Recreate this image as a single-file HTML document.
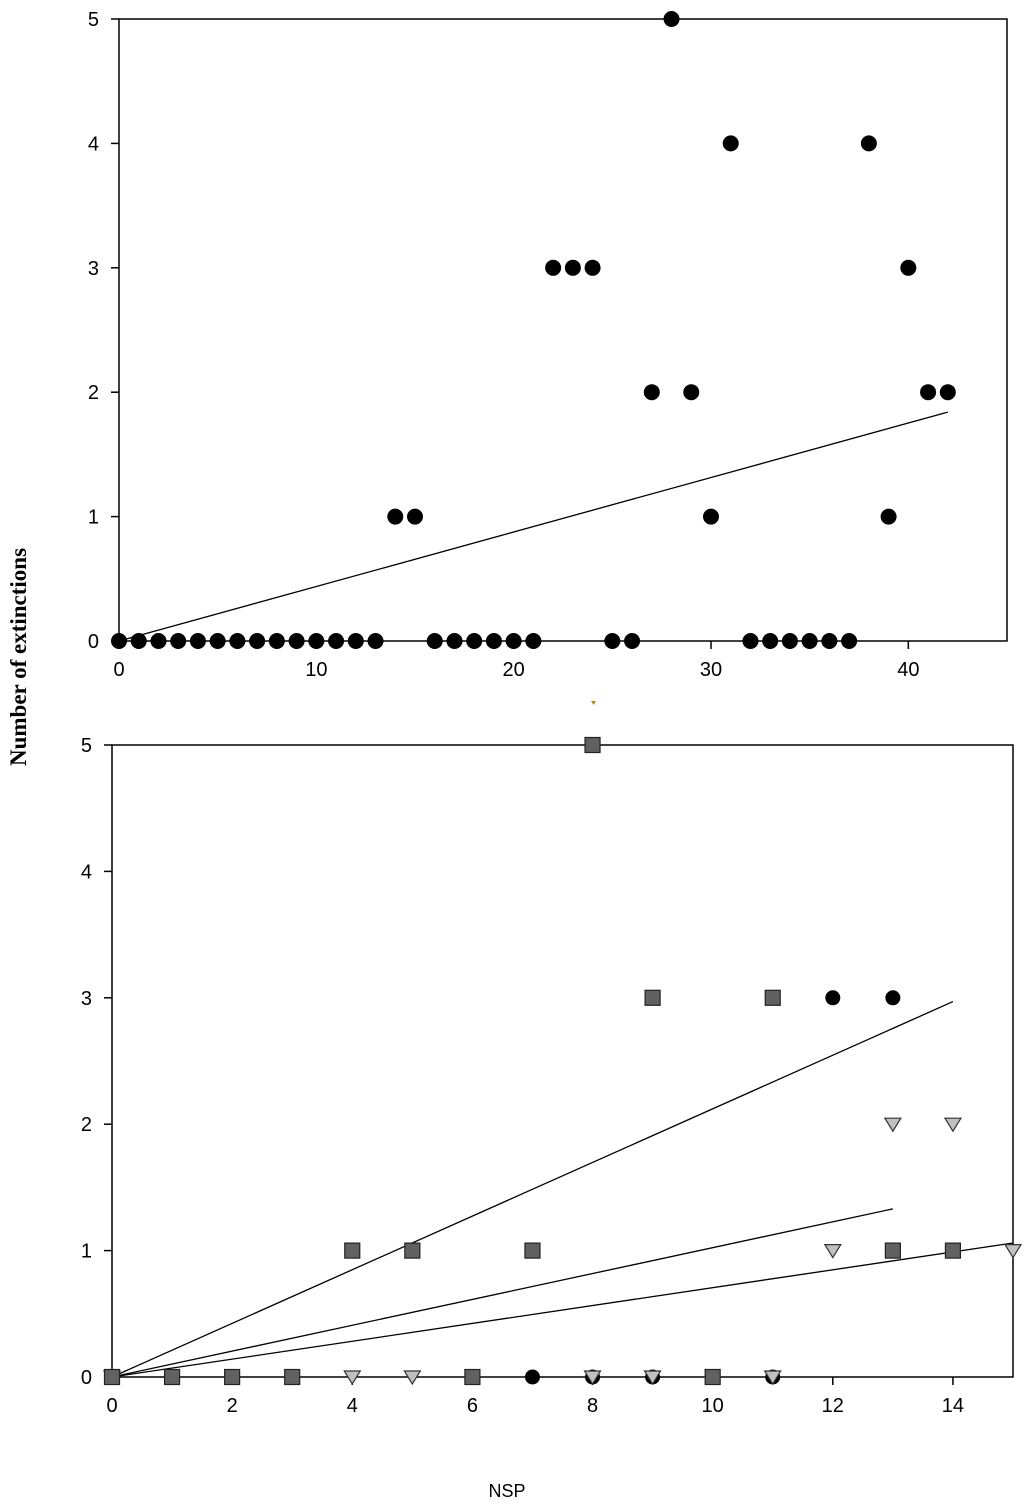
<!DOCTYPE html>
<html><head><meta charset="utf-8">
<style>
html,body{margin:0;padding:0;background:#fff;}
svg{display:block;font-family:"Liberation Sans",Arial,sans-serif;}
</style></head>
<body>
<svg id="chart" width="1024" height="1509" viewBox="0 0 1024 1509" xmlns="http://www.w3.org/2000/svg">
<text transform="translate(26,657) rotate(-90)" text-anchor="middle" font-family="Liberation Serif,serif" font-weight="bold" font-size="23">Number of extinctions</text>
<text x="507" y="1497" text-anchor="middle" font-size="18">NSP</text>
<path d="M591,701 L596,701 L593.5,705 Z" fill="#b8860b"/>
</svg>
<script>
// Top panel data
const topX = [0,1,2,3,4,5,6,7,8,9,10,11,12,13,14,15,16,17,18,19,20,21,22,23,24,25,26,27,28,29,30,31,32,33,34,35,36,37,38,39,40,41,42];
const topY = [0,0,0,0,0,0,0,0,0,0,0,0,0,0,1,1,0,0,0,0,0,0,3,3,3,0,0,2,5,2,1,4,0,0,0,0,0,0,4,1,3,2,2];
const topFit = [[0,0],[42,1.84]];
const topXTicks = [0,10,20,30,40];
const yTicks = [0,1,2,3,4,5];
// Bottom panel data
const circX = [0,1,2,3,4,5,6,7,8,9,10,11,12,13];
const circY = [0,0,0,0,1,1,0,0,0,0,0,0,3,3];
const sqX = [0,1,2,3,4,5,6,7,8,9,10,11,13,14];
const sqY = [0,0,0,0,1,1,0,1,5,3,0,3,1,1];
const triX = [0,4,5,8,9,11,12,13,14,15];
const triY = [0,0,0,0,0,0,1,2,2,1];
const fitCirc = [[0,0],[14,2.97]];
const fitTri = [[0,0],[13,1.33]];
const fitSq = [[0,0],[15,1.06]];
const botXTicks = [0,2,4,6,8,10,12,14];

const NS = "http://www.w3.org/2000/svg";
const svgEl = document.getElementById('chart');
function mk(tag, attrs, parent){
  const e = document.createElementNS(NS, tag);
  for (const k in attrs) e.setAttribute(k, attrs[k]);
  (parent||svgEl).appendChild(e);
  return e;
}
function panel(name, L, T, R, B, xmax, ymax){
  const g = mk('g', {});
  
  
  const sx = v => L + v/xmax*(R-L);
  const sy = v => B - v/ymax*(B-T);
  const box = mk('rect', {x:L, y:T, width:R-L, height:B-T, fill:'none', stroke:'#000', 'stroke-width':1.5}, g);
  
  
  return {g, sx, sy, L, T, R, B};
}
function axes(p, xt, name){
  yTicks.forEach(v => {
    const y = p.sy(v);
    mk('line', {x1:p.L-8, x2:p.L, y1:y, y2:y, stroke:'#000', 'stroke-width':1.5}, p.g);
    const t = mk('text', {x:p.L-20, y:y+7, 'text-anchor':'end', 'font-size':20}, p.g);
    t.textContent = v;
    
    
  });
  xt.forEach(v => {
    const x = p.sx(v);
    mk('line', {x1:x, x2:x, y1:p.B, y2:p.B+8, stroke:'#000', 'stroke-width':1.5}, p.g);
    const t = mk('text', {x:x, y:p.B+35, 'text-anchor':'middle', 'font-size':20}, p.g);
    t.textContent = v;
    
    
  });
}
function fit(p, f, name){
  const l = mk('line', {x1:p.sx(f[0][0]), y1:p.sy(f[0][1]), x2:p.sx(f[1][0]), y2:p.sy(f[1][1]), stroke:'#000', 'stroke-width':1.3}, p.g);
  
  
}
function circles(p, xs, ys, r, name){
  xs.forEach((x,i) => {
    const c = mk('circle', {cx:p.sx(x), cy:p.sy(ys[i]), r:r, fill:'#000'}, p.g);
    
    
  });
}
function squares(p, xs, ys, name){
  xs.forEach((x,i) => {
    const s = mk('rect', {x:p.sx(x)-7.5, y:p.sy(ys[i])-7.5, width:15, height:15, fill:'#616161', stroke:'#222', 'stroke-width':1.2}, p.g);
    
    
  });
}
function tris(p, xs, ys, name){
  xs.forEach((x,i) => {
    const cx = p.sx(x), cy = p.sy(ys[i]);
    const t = mk('path', {d:`M${cx-8},${cy-6} L${cx+8},${cy-6} L${cx},${cy+7} Z`, fill:'#c0c0c0', stroke:'#333', 'stroke-width':1.2}, p.g);
    
    
  });
}

const topPanel = panel('top-panel', 119, 19, 1007, 641, 45, 5);
axes(topPanel, topXTicks, 'top');
fit(topPanel, topFit, 'top-regression-line');
circles(topPanel, topX, topY, 8, 'top-point');

const botPanel = panel('bottom-panel', 112, 745, 1013, 1377, 15, 5);
axes(botPanel, botXTicks, 'bottom');
fit(botPanel, fitCirc, 'regression-line-circles');
fit(botPanel, fitTri, 'regression-line-middle');
fit(botPanel, fitSq, 'regression-line-lower');
circles(botPanel, circX, circY, 7.5, 'circle-point');
tris(botPanel, triX, triY, 'triangle-point');
squares(botPanel, sqX, sqY, 'square-point');
</script>
</body></html>
